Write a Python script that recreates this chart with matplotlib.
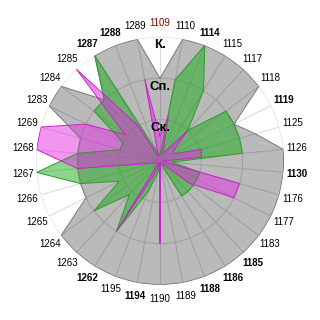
import numpy as np
import matplotlib.pyplot as plt

# categories clockwise from the top
categories = ['1109', '1110', '1114', '1115', '1117', '1118', '1119', '1125', '1126',
              '1130', '1176', '1177', '1183', '1185', '1186', '1188', '1189', '1190',
              '1194', '1195', '1262', '1263', '1264', '1265', '1266', '1267', '1268',
              '1269', '1283', '1284', '1285', '1287', '1288', '1289']
bold_labels = ['1114', '1119', '1130', '1185', '1186', '1188', '1194', '1262', '1287', '1288']
level_labels = ['Ск.', 'Сп.', 'К.']

gray_vals = [2, 3, 3, 3, 3, 3, 2, 2.4, 3, 3, 3, 3, 3, 3, 3, 3, 3, 3,
             3, 3, 3, 3, 3, 2, 2, 2, 2, 2, 3, 3, 2, 3, 3, 3]
green_vals = [0.15, 2, 3, 2, 1, 2, 2, 2, 2, 0.3, 1, 1, 1, 1, 1, 0.1, 0.1, 0.1,
              0.3, 0.8, 2, 1.1, 2, 1.1, 2, 3, 2, 1, 1, 2, 2, 3, 0.3, 0.2]
magenta_vals = [0.6, 1.1, 0.2, 0.3, 1.0, 0.4, 0.4, 1.05, 1.0, 0.05, 2, 2, 0.9, 0.1, 0.05, 0.05, 0.05, 2,
                0.05, 0.3, 2, 0.05, 0.1, 0.1, 0.2, 2, 3, 3, 2, 1.05, 3, 1, 0.1, 2]

n = len(categories)
theta = np.linspace(0, 2 * np.pi, n, endpoint=False)
theta_c = np.append(theta, theta[0])

fig = plt.figure(figsize=(3.2, 3.2), dpi=100)
ax = fig.add_axes([0.1125, 0.1095, 0.775, 0.775], projection='polar')
ax.set_theta_offset(np.pi / 2)
ax.set_theta_direction(-1)
ax.set_ylim(0, 3)

# grid
ax.set_xticks(theta)
ax.set_xticklabels([])
ax.set_yticks([1, 2, 3])
ax.set_yticklabels([])
ax.grid(color='#dcdcdc', linewidth=0.8)
ax.spines['polar'].set_visible(False)
ax.set_axisbelow(True)

def draw(vals, fill, fill_alpha, edge):
    v = np.append(vals, vals[0])
    ax.fill(theta_c, v, color=fill, alpha=fill_alpha, lw=0, zorder=2)
    ax.plot(theta_c, v, color=edge, lw=0.7, zorder=3)

draw(gray_vals, 'black', 0.27, '#787878')
draw(green_vals, '#18ae18', 0.5, '#2e9a2e')
draw(magenta_vals, '#e22de2', 0.5, '#cc22cc')

for t, lab in zip(theta, categories):
    weight = 'bold' if lab in bold_labels else 'normal'
    color = '#9a0000' if lab == '1109' else 'black'
    ax.text(t, 3.33, lab, ha='center', va='center', fontsize=7,
            family='Liberation Sans', fontweight=weight, color=color)

for r, lab in zip([1, 2, 3], level_labels):
    ax.text(0, r - 0.2, lab, ha='center', va='center', fontsize=9.5,
            family='Liberation Sans', fontweight='bold', zorder=5)

fig.savefig('out.png', dpi=100)
